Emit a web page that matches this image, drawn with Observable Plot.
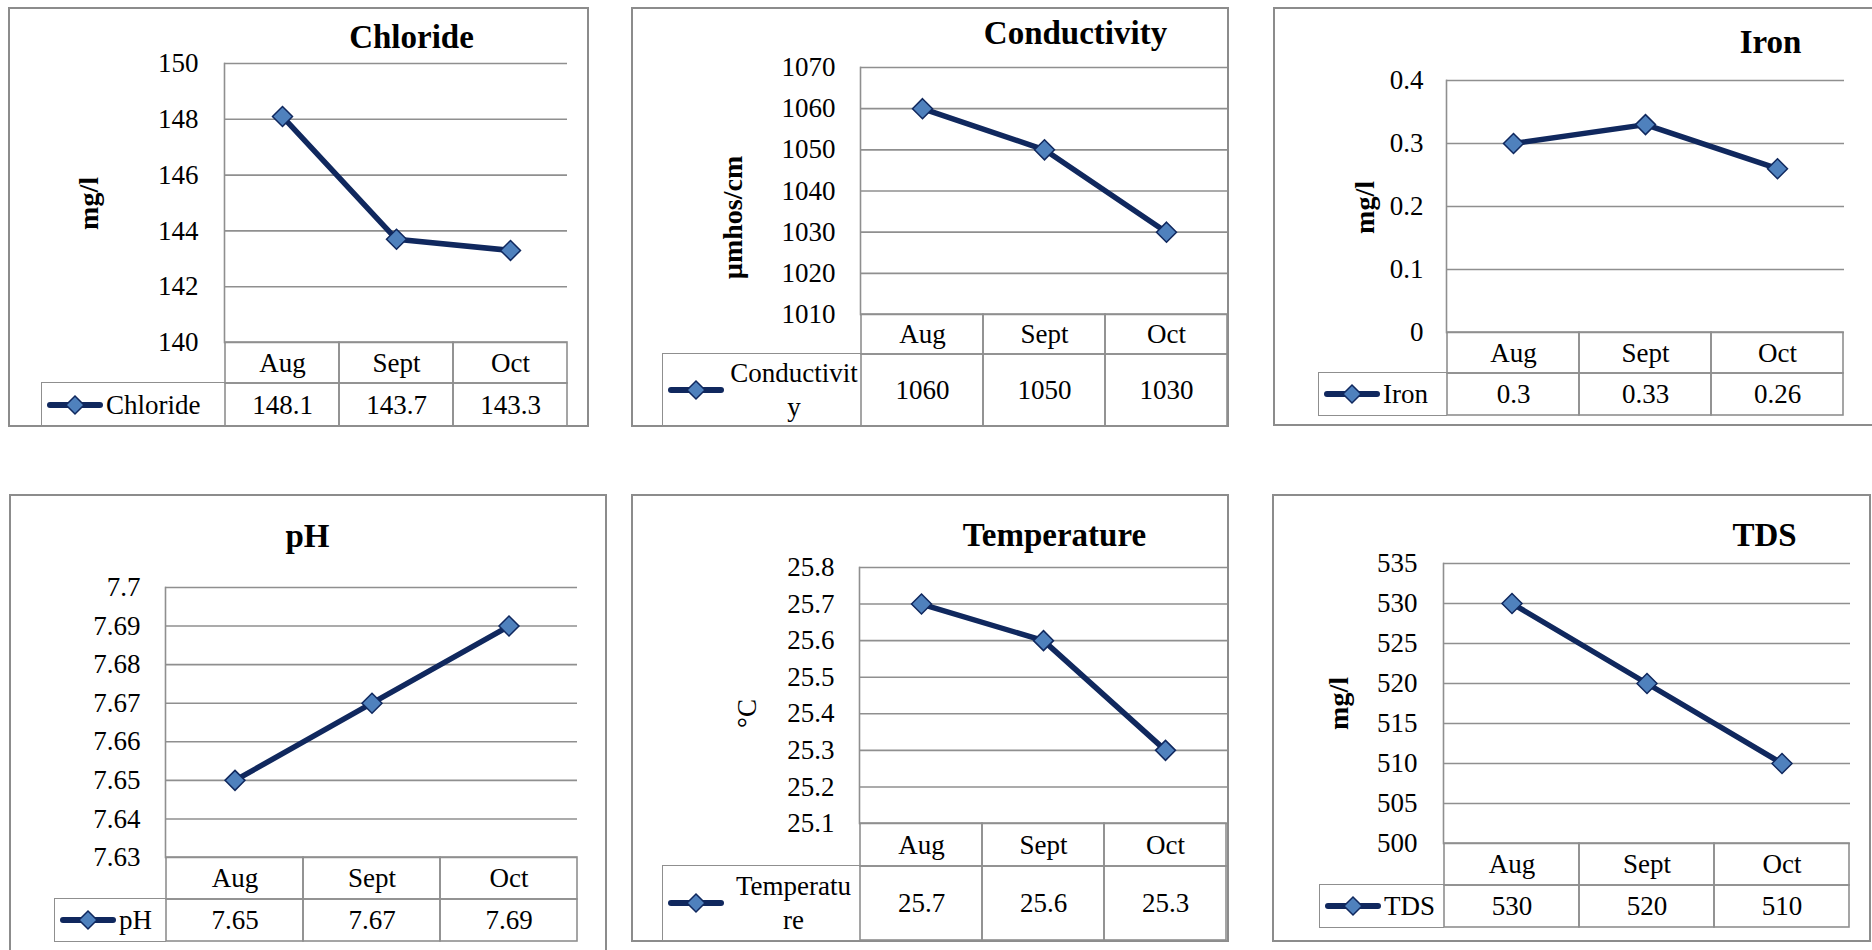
<!DOCTYPE html>
<html>
<head>
<meta charset="utf-8">
<script src="https://cdn.jsdelivr.net/npm/d3@7"></script>
<script src="https://cdn.jsdelivr.net/npm/@observablehq/plot@0.6"></script>
<style>
  html, body { margin: 0; padding: 0; background: #fff; }
  body { width: 1872px; height: 950px; position: relative; overflow: hidden; font-family: "Liberation Serif", serif; }
  .panel { position: absolute; border: 2px solid #8c8c8c; box-sizing: border-box; background: #fff; }
  .layer { position: absolute; }
  .layer svg { display: block; overflow: visible; max-width: none; }
  .layer svg text { font-family: "Liberation Serif", "Times New Roman", serif; }
  .legend { position: absolute; box-sizing: border-box; border: 1.5px solid #8f8f8f; border-right: none;
            display: flex; align-items: center; padding-left: 5px; font-size: 27px; color: #000; }
  .legend .lbl { margin-left: 3px; line-height: 34px; white-space: nowrap; }
  .legend .lbl.multi { flex: 1; text-align: center; }
</style>
</head>
<body>
<script>
// ---------------- data ----------------
const months = ["Aug", "Sept", "Oct"];

const chloride     = [148.1, 143.7, 143.3];
const conductivity = [1060, 1050, 1030];
const iron         = [0.3, 0.33, 0.26];
const ph           = [7.65, 7.67, 7.69];
const temperature  = [25.7, 25.6, 25.3];
const tds          = [530, 520, 510];

const chlorideTicks     = [140, 142, 144, 146, 148, 150];
const conductivityTicks = [1010, 1020, 1030, 1040, 1050, 1060, 1070];
const ironTicks         = [0, 0.1, 0.2, 0.3, 0.4];
const phTicks           = [7.63, 7.64, 7.65, 7.66, 7.67, 7.68, 7.69, 7.7];
const temperatureTicks  = [25.1, 25.2, 25.3, 25.4, 25.5, 25.6, 25.7, 25.8];
const tdsTicks          = [500, 505, 510, 515, 520, 525, 530, 535];

const titles       = ["Chloride", "Conductivity", "Iron", "pH", "Temperature", "TDS"];
const unitLabels   = ["mg/l", "µmhos/cm", "mg/l", null, "°C", "mg/l"];
const legendLabels = [["Chloride"], ["Conductivit", "y"], ["Iron"], ["pH"], ["Temperatu", "re"], ["TDS"]];

const seriesValues = [chloride, conductivity, iron, ph, temperature, tds];
const seriesTicks  = [chlorideTicks, conductivityTicks, ironTicks, phTicks, temperatureTicks, tdsTicks];

// ---------------- layout (page pixels) ----------------
// box: [left, top, right, bottom]; plot: [left, right, top, bottom]
const layout = [
  {box: [8, 7, 589, 427],    plot: [224, 567, 63, 342],   catB: 383, valB: 426, legL: 41,   tickR: 198,  titleXY: [411, 37],   unitXY: [89, 203],   unitBold: true},
  {box: [631, 7, 1229, 427], plot: [860, 1227, 67, 314],  catB: 354, valB: 426, legL: 662,  tickR: 835,  titleXY: [1075, 33],  unitXY: [733, 217],  unitBold: true},
  {box: [1273, 7, 1890, 426],plot: [1446, 1844, 80, 332], catB: 373, valB: 415, legL: 1318, tickR: 1423, titleXY: [1770, 42],  unitXY: [1365, 207], unitBold: true},
  {box: [9, 494, 607, 970],  plot: [165, 577, 587, 857],  catB: 899, valB: 941, legL: 54,   tickR: 140,  titleXY: [307, 536],  unitXY: null,        unitBold: true},
  {box: [631, 494, 1229, 942],plot: [859, 1227, 567, 823],catB: 866, valB: 940, legL: 662,  tickR: 834,  titleXY: [1054, 535], unitXY: [747, 713],  unitBold: false},
  {box: [1272, 494, 1871, 942],plot: [1443, 1850, 563, 843],catB: 885, valB: 927, legL: 1319, tickR: 1417, titleXY: [1764, 535], unitXY: [1339, 703], unitBold: true}
];

const NAVY = "#10285e";
const MARKER = "#4f81bd";
const GRID = "#8f8f8f";
const FONT = "'Liberation Serif', 'Times New Roman', serif";

function place(node, left, top, width, height) {
  const d = document.createElement("div");
  d.className = "layer";
  d.style.left = left + "px";
  d.style.top = top + "px";
  if (width != null) d.style.width = width + "px";
  if (height != null) d.style.height = height + "px";
  d.appendChild(node);
  document.body.appendChild(d);
  return d;
}

function swatch() {
  const ns = "http://www.w3.org/2000/svg";
  const s = document.createElementNS(ns, "svg");
  s.setAttribute("width", 56); s.setAttribute("height", 24);
  s.innerHTML = `<line x1="3" y1="12" x2="53" y2="12" stroke="${NAVY}" stroke-width="6" stroke-linecap="round"/>
    <path d="M28,3 L37,12 L28,21 L19,12 Z" fill="${MARKER}" stroke="${NAVY}" stroke-width="1.5"/>`;
  return s;
}

layout.forEach((L, i) => {
  const values = seriesValues[i];
  const ticks = seriesTicks[i];
  const rows = months.map((m, j) => ({month: m, value: values[j]}));
  const [bl, bt, br, bb] = L.box;
  const [pl, pr, pt, pb] = L.plot;

  // panel border
  const panel = document.createElement("div");
  panel.className = "panel";
  Object.assign(panel.style, {left: bl + "px", top: bt + "px", width: (br - bl) + "px", height: (bb - bt) + "px"});
  document.body.appendChild(panel);

  // ---- line chart ----
  const mR = 3, mB = 18;
  const marks = [
    Plot.ruleY(ticks, {stroke: GRID, strokeWidth: 1.6}),
    Plot.frame({anchor: "left", stroke: GRID, strokeWidth: 1.6}),
    Plot.line(rows, {x: "month", y: "value", stroke: NAVY, strokeWidth: 5.5, strokeLinejoin: "round"}),
    Plot.dot(rows, {x: "month", y: "value", symbol: "diamond2", r: 9, fill: MARKER, stroke: NAVY, strokeWidth: 1.5}),
    Plot.text([titles[i]], {text: d => d, frameAnchor: "top-left", dx: L.titleXY[0] - pl, dy: L.titleXY[1] - pt,
      textAnchor: "middle", lineAnchor: "middle", fontSize: 33, fontWeight: "bold", fontFamily: FONT, fill: "#000"})
  ];
  if (unitLabels[i]) {
    marks.push(Plot.text([unitLabels[i]], {text: d => d, frameAnchor: "top-left", dx: L.unitXY[0] - pl, dy: L.unitXY[1] - pt,
      rotate: -90, textAnchor: "middle", lineAnchor: "middle", fontSize: L.unitBold ? 28 : 27,
      fontWeight: L.unitBold ? "bold" : "normal", fontFamily: FONT, fill: "#000"}));
  }
  const chart = Plot.plot({
    width: pr - bl + mR,
    height: pb - bt + mB,
    marginLeft: pl - bl,
    marginRight: mR,
    marginTop: pt - bt,
    marginBottom: mB,
    style: {fontFamily: FONT, fontSize: "27px", color: "#000", background: "transparent", overflow: "visible"},
    x: {type: "band", domain: months, padding: 0, axis: null},
    y: {domain: [ticks[0], ticks[ticks.length - 1]], ticks: ticks, tickSize: 0, tickPadding: pl - L.tickR,
        tickFormat: d => String(d), label: null},
    marks
  });
  place(chart, bl, bt);

  // ---- table: category row ----
  const tw = pr - pl;
  const header = Plot.plot({
    width: tw, height: L.catB - pb,
    margin: 0,
    style: {fontFamily: FONT, fontSize: "27px", color: "#000", background: "transparent", overflow: "visible"},
    x: {type: "band", domain: months, padding: 0, axis: null},
    marks: [
      Plot.cell(months, {x: d => d, fill: "none", stroke: GRID, strokeWidth: 1.6}),
      Plot.text(months, {x: d => d, text: d => d, fontFamily: FONT, fill: "#000"})
    ]
  });
  place(header, pl, pb);

  // ---- table: value row ----
  const valueRow = Plot.plot({
    width: tw, height: L.valB - L.catB,
    margin: 0,
    style: {fontFamily: FONT, fontSize: "27px", color: "#000", background: "transparent", overflow: "visible"},
    x: {type: "band", domain: months, padding: 0, axis: null},
    marks: [
      Plot.cell(rows, {x: "month", fill: "none", stroke: GRID, strokeWidth: 1.6}),
      Plot.text(rows, {x: "month", text: d => String(d.value), fontFamily: FONT, fill: "#000"})
    ]
  });
  place(valueRow, pl, L.catB);

  // ---- legend key cell ----
  const leg = document.createElement("div");
  leg.className = "legend";
  Object.assign(leg.style, {left: L.legL + "px", top: (L.catB - 0.75) + "px", width: (pl - L.legL + 1) + "px", height: (L.valB - L.catB + 1.5) + "px"});
  leg.appendChild(swatch());
  const lbl = document.createElement("div");
  const lines = legendLabels[i];
  lbl.className = "lbl" + (lines.length > 1 ? " multi" : "");
  lines.forEach((t, k) => {
    if (k) lbl.appendChild(document.createElement("br"));
    lbl.appendChild(document.createTextNode(t));
  });
  leg.appendChild(lbl);
  document.body.appendChild(leg);
});
</script>
</body>
</html>
